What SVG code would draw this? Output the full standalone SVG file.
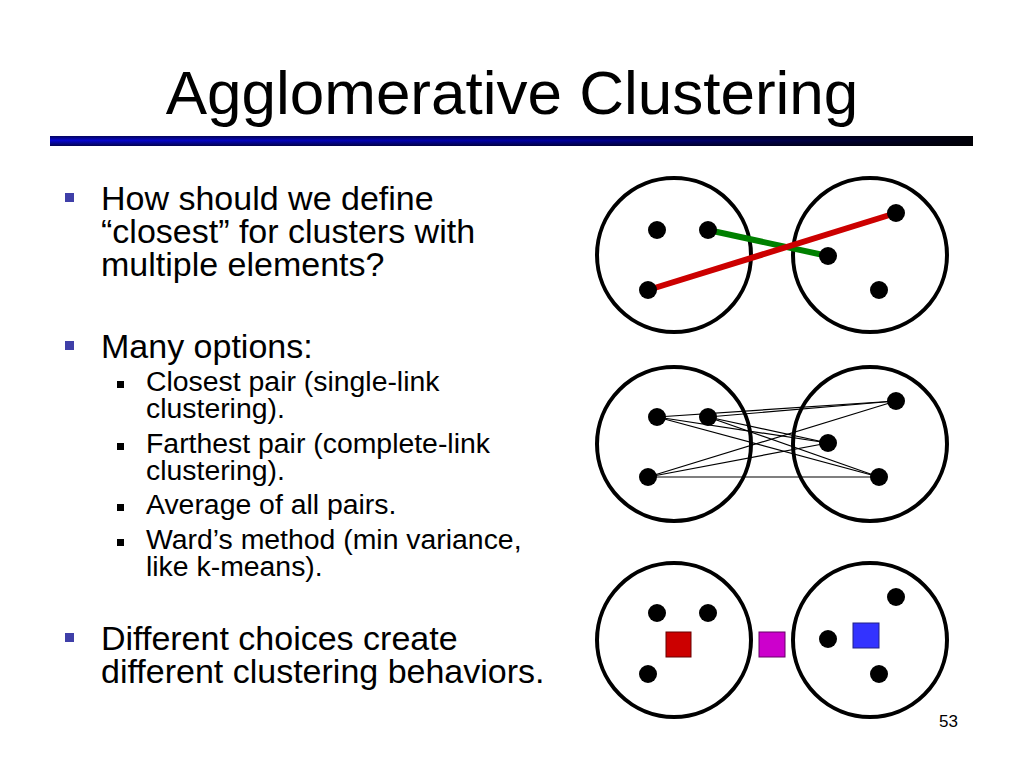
<svg xmlns="http://www.w3.org/2000/svg" width="1024" height="768" viewBox="0 0 1024 768">
<defs>
<linearGradient id="barH" x1="0" y1="0" x2="1" y2="0">
<stop offset="0" stop-color="#0808d0"/>
<stop offset="0.55" stop-color="#00009c"/>
<stop offset="1" stop-color="#000008"/>
</linearGradient>
<linearGradient id="barV" x1="0" y1="0" x2="0" y2="1">
<stop offset="0" stop-color="#000" stop-opacity="0.55"/>
<stop offset="0.45" stop-color="#000" stop-opacity="0"/>
<stop offset="1" stop-color="#000" stop-opacity="0.6"/>
</linearGradient>
</defs>
<style>
text{font-family:"Liberation Sans",Arial,Helvetica,sans-serif;fill:#000}
.title{font-size:62px}
.b1{font-size:34px}
.b2{font-size:28.4px}
.pg{font-size:17px}
.mb{fill:#3f3fa8}
.sb{fill:#000}
.ring{fill:none;stroke:#000;stroke-width:4}
.dot{fill:#000}
.thin{stroke:#000;stroke-width:1.2;fill:none}
</style>
<rect width="1024" height="768" fill="#fff"/>
<g id="title">
<text class="title" x="512" y="114" text-anchor="middle">Agglomerative Clustering</text>
<rect x="50" y="136" width="923" height="10" fill="url(#barH)"/>
<rect x="50" y="136" width="923" height="10" fill="url(#barV)"/>
</g>
<g id="bullets">
<rect class="mb" x="65" y="193" width="9" height="9"/>
<text class="b1" x="101" y="210">How should we define</text>
<text class="b1" x="101" y="243">“closest” for clusters with</text>
<text class="b1" x="101" y="276">multiple elements?</text>
<rect class="mb" x="65" y="341" width="9" height="9"/>
<text class="b1" x="101" y="358">Many options:</text>
<rect class="sb" x="117" y="381" width="7" height="7"/>
<text class="b2" x="146" y="391">Closest pair (single-link</text>
<text class="b2" x="146" y="418">clustering).</text>
<rect class="sb" x="117" y="443" width="7" height="7"/>
<text class="b2" x="146" y="453">Farthest pair (complete-link</text>
<text class="b2" x="146" y="480">clustering).</text>
<rect class="sb" x="117" y="504" width="7" height="7"/>
<text class="b2" x="146" y="514">Average of all pairs.</text>
<rect class="sb" x="117" y="539" width="7" height="7"/>
<text class="b2" x="146" y="549">Ward’s method (min variance,</text>
<text class="b2" x="146" y="576">like k-means).</text>
<rect class="mb" x="65" y="633" width="9" height="9"/>
<text class="b1" x="101" y="650">Different choices create</text>
<text class="b1" x="101" y="683">different clustering behaviors.</text>
</g>
<g id="row1">
<circle class="ring" cx="674" cy="255" r="77"/>
<circle class="ring" cx="870" cy="255" r="77"/>
</g>
<g id="connectors">
<line x1="708" y1="230" x2="828" y2="256" stroke="#008000" stroke-width="6"/>
<line x1="648" y1="290" x2="896" y2="213" stroke="#cc0000" stroke-width="6"/>
<g class="thin">
<line x1="657" y1="417" x2="896" y2="401"/>
<line x1="657" y1="417" x2="828" y2="443"/>
<line x1="657" y1="417" x2="879" y2="477"/>
<line x1="708" y1="417" x2="896" y2="401"/>
<line x1="708" y1="417" x2="828" y2="443"/>
<line x1="708" y1="417" x2="879" y2="477"/>
<line x1="648" y1="477" x2="896" y2="401"/>
<line x1="648" y1="477" x2="828" y2="443"/>
<line x1="648" y1="477" x2="879" y2="477"/>
</g>
</g>
<g id="row1-dots">
<circle class="dot" cx="657" cy="230" r="9"/>
<circle class="dot" cx="708" cy="230" r="9"/>
<circle class="dot" cx="648" cy="290" r="9"/>
<circle class="dot" cx="896" cy="213" r="9"/>
<circle class="dot" cx="828" cy="256" r="9"/>
<circle class="dot" cx="879" cy="290" r="9"/>
</g>
<g id="row2">
<circle class="ring" cx="674" cy="444" r="77"/>
<circle class="ring" cx="870" cy="444" r="77"/>
<circle class="dot" cx="657" cy="417" r="9"/>
<circle class="dot" cx="708" cy="417" r="9"/>
<circle class="dot" cx="648" cy="477" r="9"/>
<circle class="dot" cx="896" cy="401" r="9"/>
<circle class="dot" cx="828" cy="443" r="9"/>
<circle class="dot" cx="879" cy="477" r="9"/>
</g>
<g id="row3">
<circle class="ring" cx="674" cy="640" r="77"/>
<circle class="ring" cx="870" cy="640" r="77"/>
<circle class="dot" cx="657" cy="613" r="9"/>
<circle class="dot" cx="708" cy="613" r="9"/>
<circle class="dot" cx="648" cy="674" r="9"/>
<circle class="dot" cx="896" cy="597" r="9"/>
<circle class="dot" cx="828" cy="639" r="9"/>
<circle class="dot" cx="879" cy="674" r="9"/>
<rect x="666" y="632" width="25" height="25" fill="#cc0000" stroke="#660000" stroke-width="1"/>
<rect x="759" y="632" width="26" height="25" fill="#cc00cc" stroke="#660066" stroke-width="1"/>
<rect x="853" y="623" width="26" height="25" fill="#3333ff" stroke="#222288" stroke-width="1"/>
</g>
<g id="page">
<text class="pg" x="958" y="727" text-anchor="end">53</text>
</g>
</svg>
